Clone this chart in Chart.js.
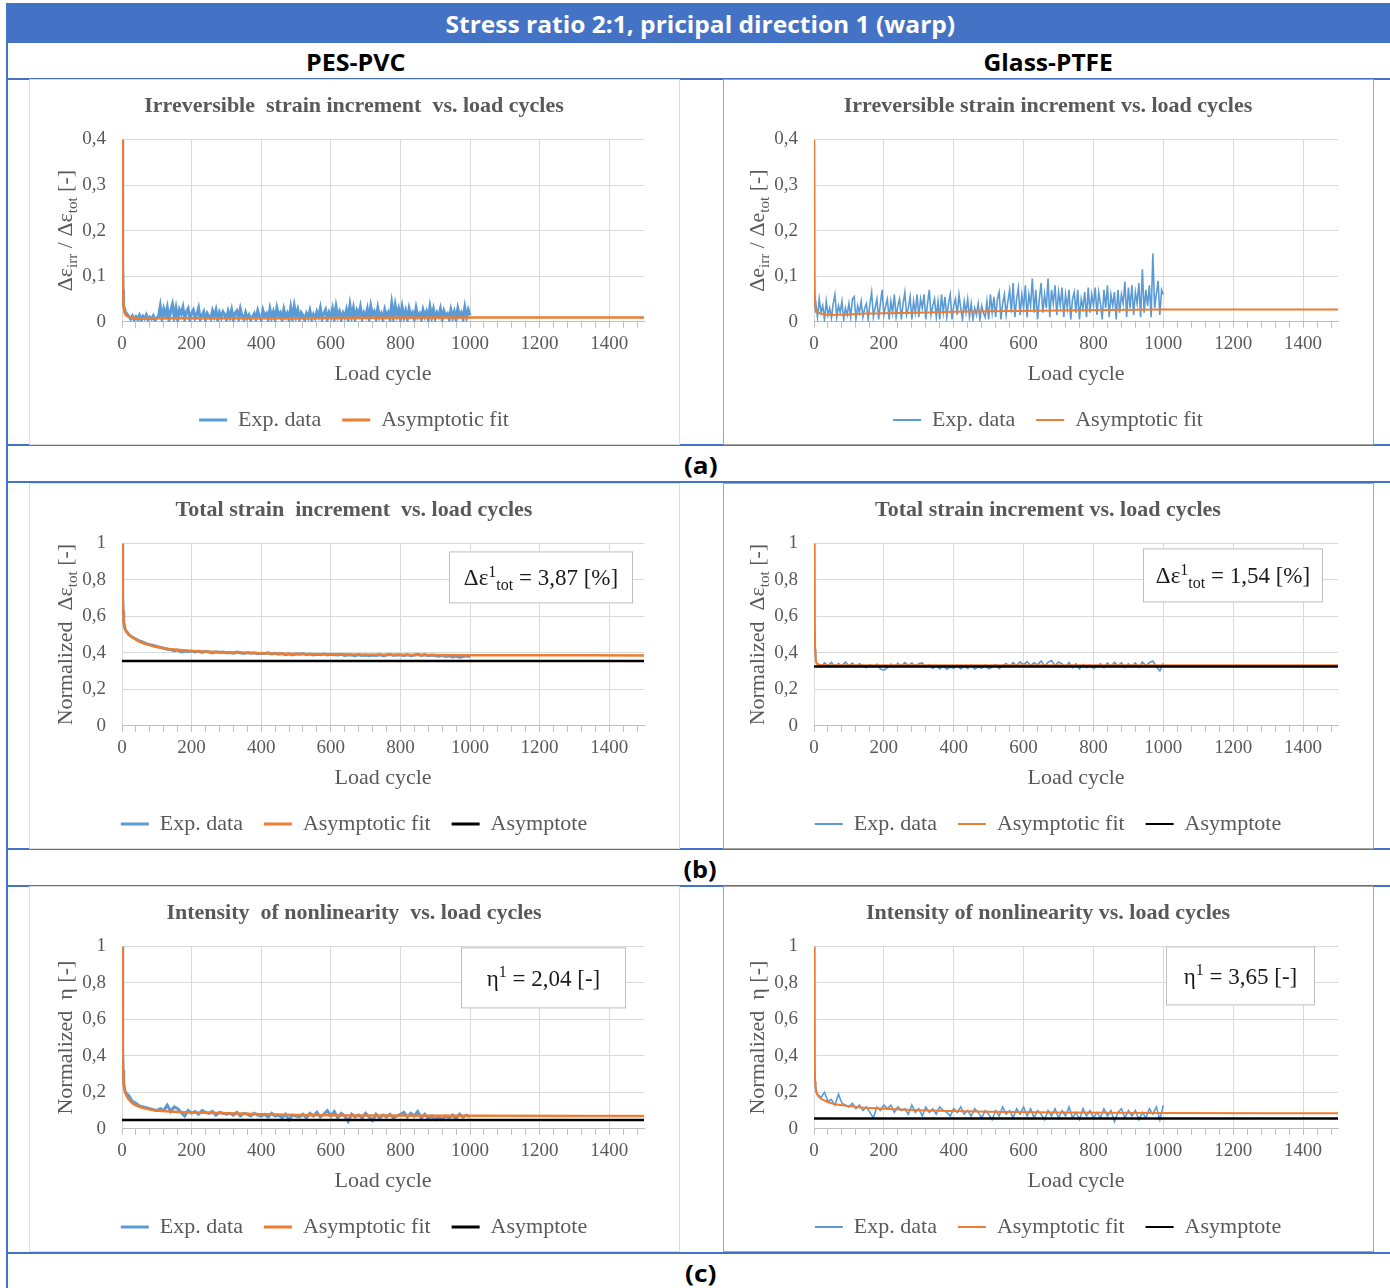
<!DOCTYPE html>
<html>
<head>
<meta charset="utf-8">
<script src="https://cdn.jsdelivr.net/npm/chart.js@4.4.0/dist/chart.umd.min.js"></script>
<style>
  body { margin: 0; width: 1390px; height: 1288px; position: relative; background: #fff; overflow: hidden; }
  .bar { position: absolute; left: 6px; top: 3px; width: 1384px; height: 40px; background: #4472C4; }
  .hl { position: absolute; left: 6px; width: 1384px; height: 2px; background: #4472C4; }
  .vl { position: absolute; left: 6px; top: 3px; width: 2px; height: 1285px; background: #4472C4; }
  .lbl { position: absolute; font-family: 'Open Sans', sans-serif; font-weight: bold; white-space: nowrap; }
  .frame { position: absolute; width: 651px; height: 366px; box-sizing: border-box; }
  .frame.l { border: 1px solid #dcdcdc; }
  .frame.r { border: 1px solid #a6a6a6; }
  canvas { position: absolute; }
</style>
</head>
<body>
<div class="bar"></div>
<div class="vl"></div>
<div class="hl" style="top:78px"></div>
<div class="hl" style="top:444px"></div>
<div class="hl" style="top:481px"></div>
<div class="hl" style="top:848px"></div>
<div class="hl" style="top:885px"></div>
<div class="hl" style="top:1252px"></div>

<span class="lbl fit" data-cx="700" data-cy="23" data-w="510" style="color:#fff;font-size:24px">Stress ratio 2:1, pricipal direction 1 (warp)</span>
<span class="lbl fit" data-cx="355" data-cy="61" data-w="99" style="color:#000;font-size:24px">PES-PVC</span>
<span class="lbl fit" data-cx="1048" data-cy="61" data-w="129" style="color:#000;font-size:24px">Glass-PTFE</span>
<span class="lbl fit" data-cx="700" data-cy="465" data-w="33" style="color:#000;font-size:23px">(a)</span>
<span class="lbl fit" data-cx="700" data-cy="869" data-w="33" style="color:#000;font-size:23px">(b)</span>
<span class="lbl fit" data-cx="700" data-cy="1273" data-w="31" style="color:#000;font-size:23px">(c)</span>

<div class="frame l" style="left:29px;top:79px"></div>
<div class="frame r" style="left:723px;top:79px"></div>
<div class="frame l" style="left:29px;top:483px"></div>
<div class="frame r" style="left:723px;top:483px"></div>
<div class="frame l" style="left:29px;top:886px"></div>
<div class="frame r" style="left:723px;top:886px"></div>

<canvas id="aL" width="648" height="364" style="left:30px;top:80px"></canvas>
<canvas id="aR" width="648" height="364" style="left:724px;top:80px"></canvas>
<canvas id="bL" width="648" height="364" style="left:30px;top:484px"></canvas>
<canvas id="bR" width="648" height="364" style="left:724px;top:484px"></canvas>
<canvas id="cL" width="648" height="364" style="left:30px;top:887px"></canvas>
<canvas id="cR" width="648" height="364" style="left:724px;top:887px"></canvas>

<script>
// sampled load cycles, every 10 cycles
const cycles = [1, 2, 3, 5, 7,
  10, 20, 30, 40, 50, 60, 70, 80, 90, 100,
  110, 120, 130, 140, 150, 160, 170, 180, 190, 200,
  210, 220, 230, 240, 250, 260, 270, 280, 290, 300,
  310, 320, 330, 340, 350, 360, 370, 380, 390, 400,
  410, 420, 430, 440, 450, 460, 470, 480, 490, 500,
  510, 520, 530, 540, 550, 560, 570, 580, 590, 600,
  610, 620, 630, 640, 650, 660, 670, 680, 690, 700,
  710, 720, 730, 740, 750, 760, 770, 780, 790, 800,
  810, 820, 830, 840, 850, 860, 870, 880, 890, 900,
  910, 920, 930, 940, 950, 960, 970, 980, 990, 1000];

// sampled load cycles, every 5 cycles (noisier curves)
const cyclesFine = [1, 2, 3, 4,
  5, 10, 15, 20, 25, 30, 35, 40, 45, 50,
  55, 60, 65, 70, 75, 80, 85, 90, 95, 100,
  105, 110, 115, 120, 125, 130, 135, 140, 145, 150,
  155, 160, 165, 170, 175, 180, 185, 190, 195, 200,
  205, 210, 215, 220, 225, 230, 235, 240, 245, 250,
  255, 260, 265, 270, 275, 280, 285, 290, 295, 300,
  305, 310, 315, 320, 325, 330, 335, 340, 345, 350,
  355, 360, 365, 370, 375, 380, 385, 390, 395, 400,
  405, 410, 415, 420, 425, 430, 435, 440, 445, 450,
  455, 460, 465, 470, 475, 480, 485, 490, 495, 500,
  505, 510, 515, 520, 525, 530, 535, 540, 545, 550,
  555, 560, 565, 570, 575, 580, 585, 590, 595, 600,
  605, 610, 615, 620, 625, 630, 635, 640, 645, 650,
  655, 660, 665, 670, 675, 680, 685, 690, 695, 700,
  705, 710, 715, 720, 725, 730, 735, 740, 745, 750,
  755, 760, 765, 770, 775, 780, 785, 790, 795, 800,
  805, 810, 815, 820, 825, 830, 835, 840, 845, 850,
  855, 860, 865, 870, 875, 880, 885, 890, 895, 900,
  905, 910, 915, 920, 925, 930, 935, 940, 945, 950,
  955, 960, 965, 970, 975, 980, 985, 990, 995, 1000];

// (a) irreversible strain increment ratio (on cyclesFine)
const irrExpPvc = [0.40, 0.14, 0.07, 0.045,
  0.035, 0.022, 0.016, 0.012, 0.006, 0.013, 0.004, 0.011, 0.005, 0.014,
  0.003, 0.012, 0.007, 0.015, 0.004, 0.010, 0.006, 0.013, 0.003, 0.009,
  0.012, 0.034, 0.006, 0.028, 0.015, 0.031, 0.004, 0.025, 0.038, 0.010,
  0.030, 0.005, 0.027, 0.018, 0.032, 0.006, 0.022, 0.029, 0.004, 0.019,
  0.026, 0.008, 0.016, 0.030, 0.005, 0.014, 0.022, 0.004, 0.018, 0.011,
  0.006, 0.024, 0.012, 0.026, 0.004, 0.020, 0.009, 0.022, 0.016, 0.005,
  0.023, 0.010, 0.026, 0.004, 0.019, 0.024, 0.007, 0.028, 0.012, 0.005,
  0.020, 0.008, 0.015, 0.004, 0.011, 0.018, 0.006, 0.024, 0.010, 0.004,
  0.025, 0.012, 0.018, 0.005, 0.028, 0.009, 0.022, 0.006, 0.030, 0.014,
  0.020, 0.005, 0.027, 0.011, 0.019, 0.004, 0.031, 0.008, 0.034, 0.012,
  0.026, 0.006, 0.020, 0.014, 0.004, 0.018, 0.009, 0.024, 0.005, 0.016,
  0.008, 0.022, 0.012, 0.030, 0.006, 0.018, 0.026, 0.005, 0.020, 0.010,
  0.028, 0.007, 0.033, 0.012, 0.022, 0.005, 0.019, 0.010, 0.026, 0.006,
  0.036, 0.011, 0.030, 0.006, 0.024, 0.014, 0.032, 0.007, 0.020, 0.012,
  0.028, 0.005, 0.034, 0.015, 0.022, 0.006, 0.030, 0.010, 0.018, 0.004,
  0.026, 0.012, 0.020, 0.005, 0.039, 0.009, 0.036, 0.014, 0.028, 0.006,
  0.032, 0.010, 0.024, 0.005, 0.029, 0.013, 0.020, 0.006, 0.030, 0.011,
  0.018, 0.005, 0.026, 0.012, 0.022, 0.004, 0.032, 0.010, 0.027, 0.007,
  0.020, 0.012, 0.028, 0.005, 0.024, 0.014, 0.018, 0.006, 0.026, 0.009,
  0.022, 0.005, 0.029, 0.013, 0.020, 0.006, 0.031, 0.010, 0.026, 0.014];
const irrExpPtfe = [0.05, 0.03, 0.048, 0.02,
  0.045, 0.01, 0.05, 0.02, 0.035, 0.005, 0.045, 0.015, 0.03, 0.008,
  0.04, 0.06, 0.01, 0.035, 0.02, 0.045, 0.005, 0.03, 0.015, 0.04,
  0.01, 0.05, 0.055, 0.005, 0.035, 0.02, 0.045, 0.01, 0.03, 0.04,
  0.005, 0.04, 0.065, 0.01, 0.03, 0.05, 0.005, 0.04, 0.07, 0.015,
  0.035, 0.05, 0.005, 0.045, 0.02, 0.06, 0.01, 0.035, 0.05, 0.005,
  0.04, 0.065, 0.015, 0.03, 0.055, 0.005, 0.045, 0.02, 0.06, 0.01,
  0.05, 0.03, 0.06, 0.005, 0.04, 0.07, 0.015, 0.035, 0.05, 0.01,
  0.045, 0.005, 0.06, 0.02, 0.055, 0.01, 0.04, 0.06, 0.005, 0.035,
  0.05, 0.015, 0.06, 0.03, 0.005, 0.045, 0.02, 0.05, 0.01, 0.04,
  0.005, 0.03, 0.015, 0.04, 0.005, 0.035, 0.02, 0.01, 0.045, 0.005,
  0.06, 0.02, 0.055, 0.01, 0.05, 0.065, 0.005, 0.04, 0.06, 0.015,
  0.045, 0.07, 0.02, 0.085, 0.01, 0.05, 0.075, 0.015, 0.06, 0.03,
  0.08, 0.01, 0.06, 0.035, 0.095, 0.02, 0.07, 0.005, 0.05, 0.085,
  0.02, 0.06, 0.03, 0.095, 0.01, 0.07, 0.04, 0.08, 0.015, 0.065,
  0.035, 0.075, 0.01, 0.06, 0.03, 0.07, 0.005, 0.05, 0.065, 0.02,
  0.07, 0.005, 0.05, 0.03, 0.065, 0.01, 0.075, 0.02, 0.06, 0.035,
  0.075, 0.015, 0.065, 0.04, 0.005, 0.07, 0.03, 0.08, 0.01, 0.06,
  0.035, 0.065, 0.005, 0.07, 0.02, 0.06, 0.04, 0.088, 0.01, 0.075,
  0.03, 0.08, 0.015, 0.065, 0.04, 0.085, 0.01, 0.115, 0.02, 0.07,
  0.035, 0.08, 0.01, 0.15, 0.03, 0.06, 0.09, 0.015, 0.07, 0.06];

// (b) normalized total strain increment (on cycles)
const totExpPvc = [1.0, 0.72, 0.63, 0.57, 0.545,
  0.525, 0.50, 0.485, 0.475, 0.465, 0.458, 0.45, 0.445, 0.44, 0.435,
  0.43, 0.425, 0.42, 0.418, 0.412, 0.415, 0.405, 0.41, 0.408, 0.41,
  0.405, 0.41, 0.402, 0.408, 0.405, 0.40, 0.406, 0.402, 0.404, 0.40,
  0.402, 0.398, 0.404, 0.40, 0.396, 0.402, 0.398, 0.40, 0.395, 0.398,
  0.396, 0.40, 0.394, 0.398, 0.392, 0.396, 0.39, 0.394, 0.388, 0.395,
  0.392, 0.396, 0.39, 0.394, 0.388, 0.392, 0.39, 0.394, 0.388, 0.392,
  0.39, 0.388, 0.392, 0.386, 0.39, 0.388, 0.384, 0.39, 0.386, 0.388,
  0.384, 0.388, 0.386, 0.39, 0.384, 0.388, 0.392, 0.386, 0.39, 0.388,
  0.386, 0.39, 0.384, 0.388, 0.392, 0.386, 0.39, 0.384, 0.388, 0.385,
  0.382, 0.386, 0.38, 0.384, 0.378, 0.382, 0.376, 0.38, 0.384, 0.378];
const totExpPtfe = [1.0, 0.55, 0.42, 0.36, 0.345,
  0.34, 0.322, 0.345, 0.33, 0.348, 0.324, 0.342, 0.33, 0.35, 0.328,
  0.344, 0.322, 0.34, 0.328, 0.318, 0.336, 0.322, 0.338, 0.312, 0.305,
  0.318, 0.338, 0.322, 0.342, 0.326, 0.346, 0.33, 0.344, 0.326, 0.34,
  0.345, 0.32, 0.336, 0.315, 0.33, 0.312, 0.328, 0.31, 0.322, 0.315,
  0.33, 0.312, 0.326, 0.314, 0.332, 0.31, 0.326, 0.316, 0.334, 0.312,
  0.32, 0.336, 0.314, 0.33, 0.342, 0.324, 0.346, 0.33, 0.35, 0.334,
  0.352, 0.33, 0.346, 0.334, 0.355, 0.328, 0.348, 0.358, 0.33, 0.35,
  0.34, 0.322, 0.346, 0.318, 0.34, 0.312, 0.336, 0.32, 0.334, 0.314,
  0.326, 0.34, 0.318, 0.344, 0.324, 0.348, 0.33, 0.345, 0.32, 0.34,
  0.326, 0.345, 0.32, 0.35, 0.33, 0.346, 0.355, 0.325, 0.3, 0.342];

// (c) normalized intensity of nonlinearity (on cycles)
const etaExpPvc = [1.0, 0.45, 0.32, 0.25, 0.22,
  0.2, 0.18, 0.15, 0.14, 0.125, 0.12, 0.115, 0.11, 0.105, 0.1,
  0.11, 0.1, 0.13, 0.095, 0.12, 0.11, 0.09, 0.07, 0.1, 0.085,
  0.095, 0.08, 0.1, 0.09, 0.085, 0.095, 0.075, 0.09, 0.085, 0.08,
  0.085, 0.075, 0.09, 0.07, 0.085, 0.08, 0.07, 0.085, 0.075, 0.07,
  0.08, 0.065, 0.085, 0.07, 0.075, 0.06, 0.08, 0.05, 0.075, 0.07,
  0.065, 0.08, 0.06, 0.085, 0.07, 0.09, 0.065, 0.08, 0.1, 0.07,
  0.095, 0.06, 0.085, 0.07, 0.04, 0.08, 0.065, 0.075, 0.06, 0.085,
  0.065, 0.045, 0.08, 0.06, 0.075, 0.065, 0.08, 0.06, 0.07, 0.08,
  0.09, 0.065, 0.085, 0.07, 0.095, 0.06, 0.08, 0.055, 0.07, 0.05,
  0.065, 0.05, 0.07, 0.06, 0.075, 0.055, 0.08, 0.065, 0.075, 0.065];
const etaExpPtfe = [1.0, 0.35, 0.26, 0.22, 0.2,
  0.19, 0.17, 0.2, 0.15, 0.16, 0.13, 0.19, 0.14, 0.13, 0.12,
  0.14, 0.11, 0.13, 0.1, 0.12, 0.09, 0.06, 0.12, 0.1, 0.13,
  0.11, 0.13, 0.09, 0.12, 0.1, 0.11, 0.08, 0.13, 0.09, 0.11,
  0.07, 0.12, 0.09, 0.11, 0.08, 0.12, 0.1, 0.09, 0.07, 0.11,
  0.09, 0.12, 0.08, 0.1, 0.07, 0.11, 0.09, 0.06, 0.1, 0.08,
  0.05, 0.1, 0.07, 0.12, 0.08, 0.1, 0.06, 0.11, 0.08, 0.12,
  0.07, 0.11, 0.06, 0.1, 0.08, 0.05, 0.1, 0.07, 0.11, 0.06,
  0.1, 0.07, 0.12, 0.06, 0.09, 0.05, 0.11, 0.07, 0.1, 0.06,
  0.09, 0.06, 0.11, 0.07, 0.1, 0.04, 0.09, 0.11, 0.06, 0.1,
  0.07, 0.1, 0.05, 0.09, 0.06, 0.11, 0.08, 0.12, 0.05, 0.13];

// asymptotic fit curves
const fitCycles = [1, 2, 3, 5, 7, 10, 20, 30, 50, 75, 100, 150, 200, 300, 400, 500, 700, 1000, 1500];
const irrFitPvc = [0.4, 0.14, 0.07, 0.035, 0.022, 0.016, 0.011, 0.009, 0.008, 0.008, 0.008, 0.008, 0.008, 0.008, 0.008, 0.008, 0.009, 0.0095, 0.0095];
const irrFitPtfe = [0.4, 0.1, 0.05, 0.03, 0.026, 0.022, 0.018, 0.016, 0.015, 0.0155, 0.016, 0.018, 0.019, 0.02, 0.022, 0.023, 0.025, 0.027, 0.027];
const totFitPvc = [1.0, 0.72, 0.63, 0.57, 0.545, 0.525, 0.5, 0.485, 0.462, 0.445, 0.432, 0.418, 0.41, 0.403, 0.398, 0.394, 0.39, 0.387, 0.386];
const totFitPtfe = [1.0, 0.6, 0.45, 0.37, 0.345, 0.338, 0.334, 0.333, 0.332, 0.332, 0.332, 0.332, 0.332, 0.332, 0.332, 0.332, 0.332, 0.332, 0.332];
const etaFitPvc = [1.0, 0.45, 0.32, 0.25, 0.22, 0.195, 0.16, 0.14, 0.12, 0.108, 0.1, 0.094, 0.09, 0.085, 0.08, 0.076, 0.073, 0.071, 0.07];
const etaFitPtfe = [1.0, 0.4, 0.28, 0.22, 0.2, 0.185, 0.165, 0.155, 0.14, 0.13, 0.125, 0.115, 0.11, 0.102, 0.097, 0.093, 0.089, 0.086, 0.085];

// asymptote levels
const totAsymPvc = 0.355;
const totAsymPtfe = 0.325;
const etaAsymPvc = 0.048;
const etaAsymPtfe = 0.057;

// fit the html labels to their widths
document.querySelectorAll('.fit').forEach(el => {
  const w = el.offsetWidth, h = el.offsetHeight;
  const s = (+el.dataset.w) / w;
  el.style.left = (el.dataset.cx - w / 2) + 'px';
  el.style.top = (el.dataset.cy - h / 2) + 'px';
  el.style.transform = 'scaleX(' + s + ')';
});

const SERIF = "'Liberation Serif', 'Times New Roman', serif";
const GREY = '#595959';
Chart.defaults.font.family = SERIF;
Chart.defaults.color = GREY;

//draw text with sub (1) and superscript (2) parts
function drawRich(ctx, parts, cx, cy, size, color) {
  const fontOf = p => (p[1] ? Math.round(size * 0.68) : size) + 'px ' + SERIF;
  let total = 0;
  const widths = parts.map(p => {
    ctx.font = fontOf(p);
    const w = ctx.measureText(p[0]).width;
    total += w;
    return w;
  });
  let x = cx - total / 2;
  ctx.fillStyle = color;
  ctx.textAlign = 'left';
  ctx.textBaseline = 'alphabetic';
  parts.forEach((p, i) => {
    ctx.font = fontOf(p);
    const dy = p[1] === 1 ? size * 0.22 : p[1] === 2 ? -size * 0.36 : 0;
    ctx.fillText(p[0], x, cy + size * 0.34 + dy);
    x += widths[i];
  });
}

const richPlugin = {
  id: 'rich',
  afterDraw(chart, args, o) {
    const ctx = chart.ctx, ca = chart.chartArea;
    ctx.save();
    ctx.translate(o.yTitleX, (ca.top + ca.bottom) / 2);
    ctx.rotate(-Math.PI / 2);
    drawRich(ctx, o.yTitle, 0, 0, 22, GREY);
    ctx.restore();
    if (o.note) {
      const n = o.note;
      const bx = ca.right - n.dr - n.w, by = ca.top + n.dt;
      ctx.save();
      ctx.fillStyle = '#fff';
      ctx.fillRect(bx, by, n.w, n.h);
      ctx.strokeStyle = '#bfbfbf';
      ctx.lineWidth = 1;
      ctx.strokeRect(bx + 0.5, by + 0.5, n.w - 1, n.h - 1);
      drawRich(ctx, n.parts, bx + n.w / 2, by + n.h / 2, 23, '#1a1a1a');
      ctx.restore();
    }
  }
};

const pts = (xs, ys) => xs.map((x, i) => ({ x: x, y: ys[i] }));
const fmt = v => (v === 0 || v === 1) ? String(v) : v.toFixed(1).replace('.', ',');

function makeChart(id, c) {
  const datasets = [
    { label: 'Exp. data', data: pts(c.xs, c.exp), borderColor: '#5B9BD5', backgroundColor: '#5B9BD5',
      borderWidth: c.thick ? 3 : 1.6, pointRadius: 0, order: 3 },
    { label: 'Asymptotic fit', data: pts(fitCycles, c.fit), borderColor: '#ED7D31', backgroundColor: '#ED7D31',
      borderWidth: c.thick ? 2.5 : 2, pointRadius: 0, cubicInterpolationMode: 'monotone', order: 2 }
  ];
  if (c.asym !== undefined) {
    datasets.push({ label: 'Asymptote', data: [{ x: 0, y: c.asym }, { x: 1500, y: c.asym }],
      borderColor: '#000', backgroundColor: '#000', borderWidth: 2.5, pointRadius: 0, order: 1 });
  }
  return new Chart(document.getElementById(id), {
    type: 'line',
    data: { datasets: datasets },
    plugins: [richPlugin],
    options: {
      responsive: false,
      animation: false,
      devicePixelRatio: 1,
      layout: { padding: { left: 0, right: 0, top: 0, bottom: 3 } },
      plugins: {
        tooltip: { enabled: false },
        title: { display: true, text: c.title, color: GREY,
          font: { size: 22, weight: 'bold', family: SERIF }, padding: { top: 13, bottom: 20 } },
        legend: { position: 'bottom',
          labels: { boxWidth: 28, boxHeight: c.thick ? 3 : 2, padding: 10, color: GREY,
            font: { size: 22, family: SERIF },
            sort: (a, b) => a.datasetIndex - b.datasetIndex,
            generateLabels: ch => {
              const items = Chart.defaults.plugins.legend.labels.generateLabels(ch);
              const last = Math.max(...items.map(l => l.datasetIndex));
              return items.map(l => Object.assign(l, { fillStyle: l.strokeStyle, lineWidth: 0,
                text: l.datasetIndex === last ? l.text : l.text + '  ' }));
            } } },
        rich: { yTitle: c.yTitle, yTitleX: c.yTitleX, note: c.note }
      },
      scales: {
        x: { type: 'linear', min: 0, max: 1500,
          afterBuildTicks: s => { const t = []; for (let v = 0; v <= 1480; v += 40) t.push({ value: v }); s.ticks = t; },
          ticks: { autoSkip: false, maxRotation: 0, padding: 5, font: { size: 19 },
            callback: v => v % 200 === 0 ? String(v) : '' },
          grid: { drawTicks: true, tickLength: 6, tickColor: '#bfbfbf',
            color: ctx => (ctx.tick && ctx.tick.value % 200 === 0) ? '#d9d9d9' : 'rgba(0,0,0,0)' },
          border: { display: true, color: '#bfbfbf' },
          title: { display: true, text: 'Load cycle', color: GREY, font: { size: 22 }, padding: { top: 0, bottom: 12 } } },
        y: { min: 0, max: c.yMax,
          afterFit: s => { s.width = c.yWidth; },
          ticks: { stepSize: c.yStep, padding: 16, font: { size: 19 }, callback: v => fmt(v) },
          grid: { drawTicks: false, color: '#d9d9d9' },
          border: { display: false } },
        y2: { type: 'linear', position: 'right', display: true,
          afterFit: s => { s.width = 34; },
          ticks: { display: false }, grid: { display: false }, border: { display: false } }
      }
    }
  });
}

const irrTitleParts = sym => [[sym, 0], ['irr', 1], [' / ' + sym, 0], ['tot', 1], [' [-]', 0]];
const totTitleParts = [['Normalized  Δε', 0], ['tot', 1], [' [-]', 0]];
const etaTitleParts = [['Normalized  η [-]', 0]];

makeChart('aL', { xs: cyclesFine, exp: irrExpPvc, fit: irrFitPvc, thick: true, yMax: 0.4, yStep: 0.1, yWidth: 92, yTitleX: 35,
  title: 'Irreversible  strain increment  vs. load cycles', yTitle: irrTitleParts('Δε') });
makeChart('aR', { xs: cyclesFine, exp: irrExpPtfe, fit: irrFitPtfe, thick: false, yMax: 0.4, yStep: 0.1, yWidth: 90, yTitleX: 33,
  title: 'Irreversible strain increment vs. load cycles', yTitle: irrTitleParts('Δe') });
makeChart('bL', { xs: cycles, exp: totExpPvc, fit: totFitPvc, asym: totAsymPvc, thick: true, yMax: 1, yStep: 0.2, yWidth: 92, yTitleX: 35,
  title: 'Total strain  increment  vs. load cycles', yTitle: totTitleParts,
  note: { w: 184, h: 52, dr: 11, dt: 8, parts: [['Δε', 0], ['1', 2], ['tot', 1], [' = 3,87 [%]', 0]] } });
makeChart('bR', { xs: cycles, exp: totExpPtfe, fit: totFitPtfe, asym: totAsymPtfe, thick: false, yMax: 1, yStep: 0.2, yWidth: 90, yTitleX: 33,
  title: 'Total strain increment vs. load cycles', yTitle: totTitleParts,
  note: { w: 180, h: 54, dr: 15, dt: 5, parts: [['Δε', 0], ['1', 2], ['tot', 1], [' = 1,54 [%]', 0]] } });
makeChart('cL', { xs: cycles, exp: etaExpPvc, fit: etaFitPvc, asym: etaAsymPvc, thick: true, yMax: 1, yStep: 0.2, yWidth: 92, yTitleX: 35,
  title: 'Intensity  of nonlinearity  vs. load cycles', yTitle: etaTitleParts,
  note: { w: 165, h: 61, dr: 18, dt: 1, parts: [['η', 0], ['1', 2], [' = 2,04 [-]', 0]] } });
makeChart('cR', { xs: cycles, exp: etaExpPtfe, fit: etaFitPtfe, asym: etaAsymPtfe, thick: false, yMax: 1, yStep: 0.2, yWidth: 90, yTitleX: 33,
  title: 'Intensity of nonlinearity vs. load cycles', yTitle: etaTitleParts,
  note: { w: 149, h: 59, dr: 23, dt: 0, parts: [['η', 0], ['1', 2], [' = 3,65 [-]', 0]] } });
</script>
</body>
</html>
